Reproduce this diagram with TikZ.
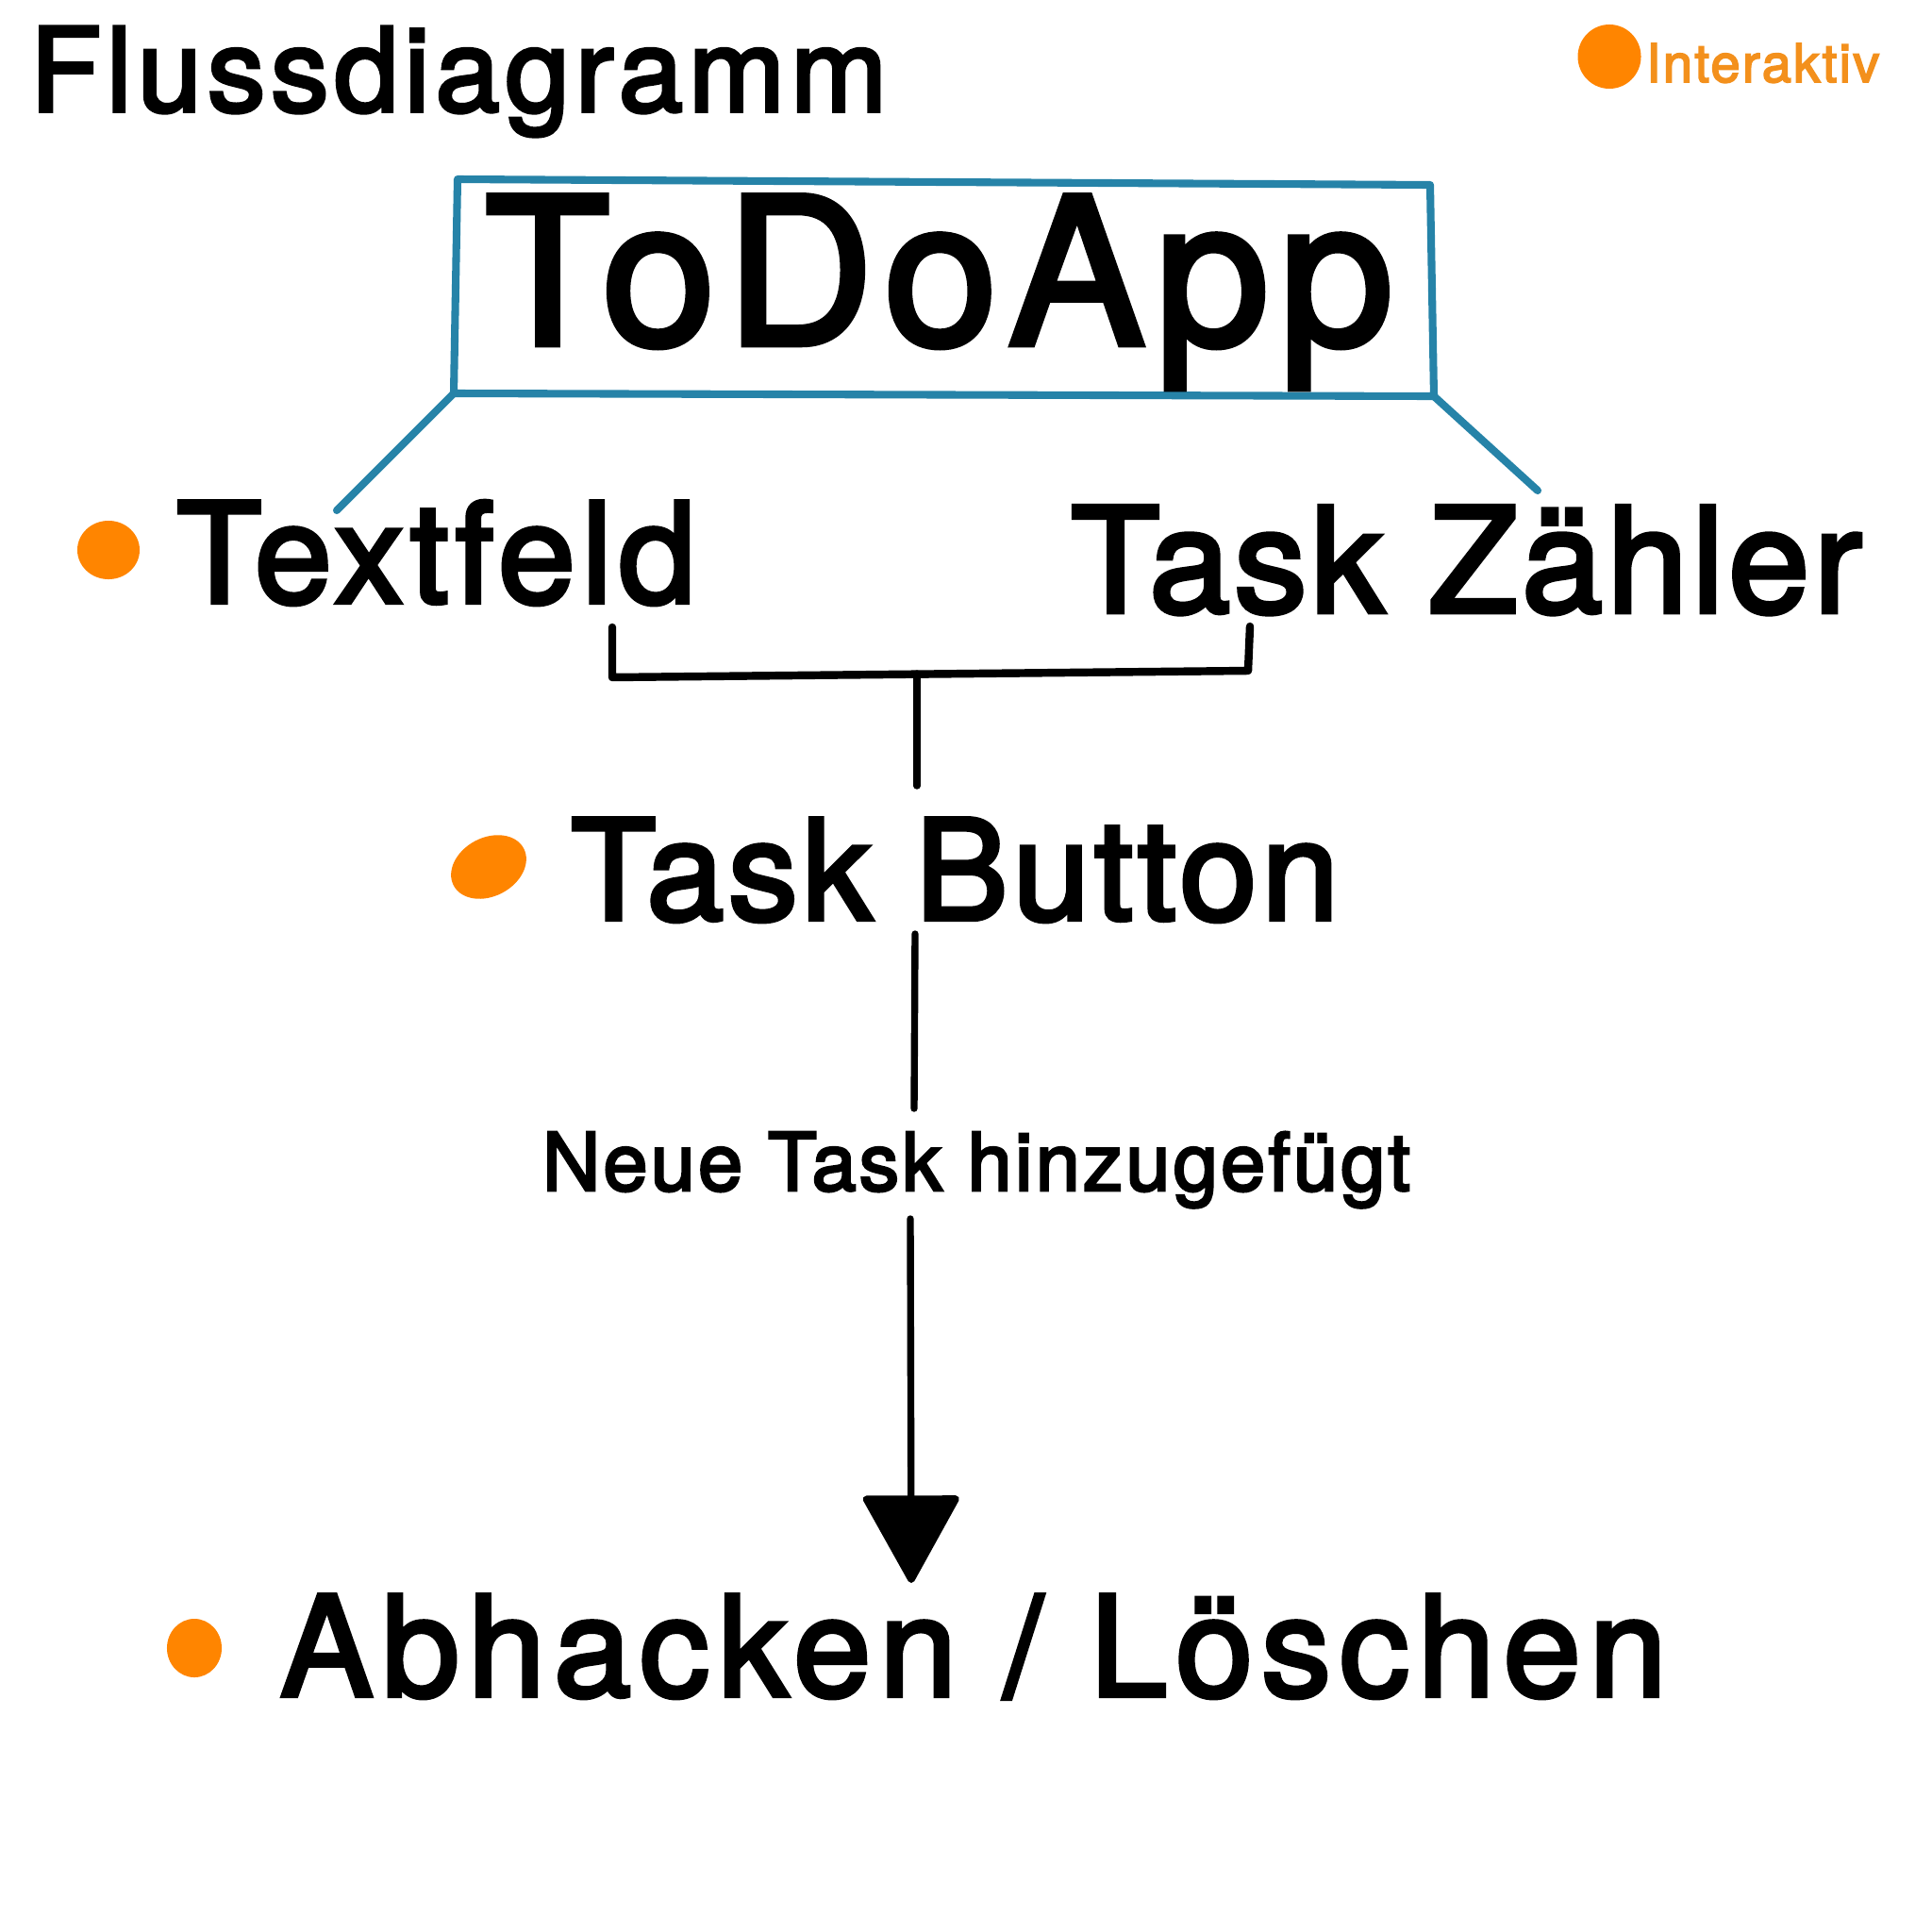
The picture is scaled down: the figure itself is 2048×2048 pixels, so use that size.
\documentclass[tikz,border=0pt]{standalone}
\usepackage{fontspec}
\usetikzlibrary{shapes.geometric,arrows.meta}
\newfontfamily\hv{TeX Gyre Heros}[FakeBold=3]
\definecolor{dorange}{HTML}{FF8500}
\definecolor{torange}{HTML}{F3901C}
\definecolor{tblue}{HTML}{2683A8}
\newcommand{\fsz}[2]{\hv\fontsize{#1}{#1}\selectfont\addfontfeatures{LetterSpace=#2}}
\tikzset{
  txt/.style={anchor=base west, inner sep=0pt, outer sep=0pt},
  blueline/.style={draw=tblue, line width=2.3pt, line cap=round, line join=round},
  blkline/.style={draw=black, line width=2.1pt, line cap=round, line join=round},
  odot/.style={ellipse, fill=dorange, draw=none, inner sep=0pt}
}
\begin{document}
\begin{tikzpicture}[x=0.01cm,y=-0.01cm]
\useasboundingbox (0,0) rectangle (2048,2048);
\fill[white] (0,0) rectangle (2048,2048);
% title
\node[txt, font=\fsz{35}{4.6}] (title) at (32,118) {Flussdiagramm};
\node[odot, minimum width=0.67cm, minimum height=0.68cm] (idot) at (1706,60) {};
\node[txt, font=\fsz{16}{4}, text=torange] (inter) at (1745,87) {Interaktiv};
% box
\coordinate (bTL) at (485,190);
\coordinate (bTR) at (1516,196);
\coordinate (bBR) at (1520,420);
\coordinate (bBL) at (481,417);
\draw[blueline] (bTL) -- (bTR) -- (bBR) -- (bBL) -- cycle;
\node[txt, font=\fsz{61.5}{5.3}] (todo) at (514,365) {ToDoApp};
% level 2
\node[odot, minimum width=0.66cm, minimum height=0.62cm] (tdot) at (115,583) {};
\node[txt, font=\fsz{42}{4.4}] (textfeld) at (187,639) {Textfeld};
\node[txt, font=\fsz{44}{2.7}] (zaehler) at (1135,649) {Task Zähler};
\coordinate (lEnd) at (357,541);
\coordinate (rEnd) at (1630,520);
\draw[blueline] (bBL) -- (lEnd);
\draw[blueline] (bBR) -- (rEnd);
% bracket
\coordinate (brL1) at (649,665);
\coordinate (brL2) at (649,718);
\coordinate (brR2) at (1323,711);
\coordinate (brR1) at (1325,664);
\coordinate (brM) at (972,714);
\coordinate (brS) at (972,833);
\draw[blkline, line width=2.4pt] (brL1) -- (brL2) -- (brR2) -- (brR1);
\draw[blkline] (brM) -- (brS);
% task button
\node[odot, minimum width=0.84cm, minimum height=0.62cm, rotate=28] (bdot) at (518,919) {};
\node[txt, font=\fsz{42}{3.2}] (button) at (605,975) {Task Button};
\coordinate (b1) at (970,990);
\coordinate (b2) at (969,1175);
\draw[blkline] (b1) -- (b2);
\node[txt, font=\fsz{24.2}{3.5}] (neu) at (575,1262) {Neue Task hinzugefügt};
\coordinate (a1) at (965,1292);
\coordinate (a2) at (966,1678);
\draw[blkline, -{Triangle[width=30pt,length=27.5pt,round]}] (a1) -- (a2);
% last
\node[odot, minimum width=0.58cm, minimum height=0.62cm] (adot) at (206,1747) {};
\node[txt, font=\fsz{42}{6}] (abhacken) at (297,1798) {Abhacken / Löschen};
\end{tikzpicture}
\end{document}
